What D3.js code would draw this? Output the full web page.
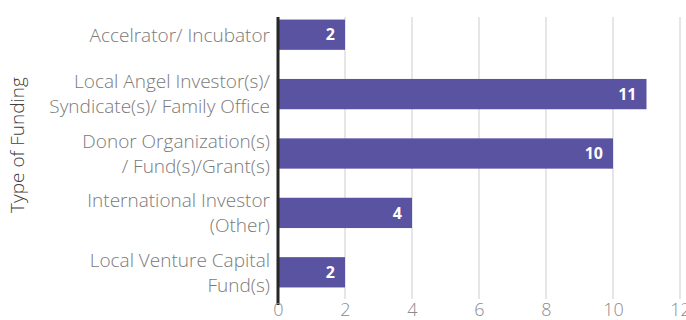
<!DOCTYPE html>
<html>
<head>
<meta charset="utf-8">
<script src="https://cdn.jsdelivr.net/npm/d3@7"></script>
<style>
  html, body { margin: 0; padding: 0; background: #fff; }
  svg { display: block; }
  text { font-family: "Open Sans", Lato, sans-serif; }
</style>
</head>
<body>
<div id="chart"></div>
<script>
// Funding types and counts
const categories = [
  ["Accelrator/ Incubator"],
  ["Local Angel Investor(s)/", "Syndicate(s)/ Family Office"],
  ["Donor Organization(s)", "/ Fund(s)/Grant(s)"],
  ["International Investor", "(Other)"],
  ["Local Venture Capital", "Fund(s)"]
];
const counts = [2, 11, 10, 4, 2];
const xTicks = [0, 2, 4, 6, 8, 10, 12];
const axisTitle = "Type of Funding";

const width = 686, height = 320;
const svg = d3.select("#chart").append("svg")
  .attr("width", width).attr("height", height);

const x = d3.scaleLinear().domain([0, 12]).range([278, 680]);
const y = d3.scaleBand()
  .domain(d3.range(categories.length))
  .range([5, 302])
  .paddingInner(0.49)
  .paddingOuter(0.245);

const plotTop = 17, plotBottom = 299;

// vertical gridlines
svg.append("g")
  .selectAll("line")
  .data(xTicks.filter(t => t > 0))
  .join("line")
  .attr("x1", d => x(d)).attr("x2", d => x(d))
  .attr("y1", plotTop).attr("y2", plotBottom)
  .attr("stroke", "#d9d9d9").attr("stroke-width", 1.3);

// bars
svg.append("g")
  .selectAll("rect")
  .data(counts)
  .join("rect")
  .attr("x", x(0))
  .attr("y", (d, i) => y(i))
  .attr("width", d => x(d) - x(0))
  .attr("height", y.bandwidth())
  .attr("fill", "#5a53a2");

// value labels
svg.append("g")
  .selectAll("text")
  .data(counts)
  .join("text")
  .attr("x", d => x(d) - 10)
  .attr("y", (d, i) => y(i) + y.bandwidth() / 2)
  .attr("dy", "0.36em")
  .attr("text-anchor", "end")
  .attr("fill", "#fff")
  .attr("font-weight", "bold")
  .attr("font-size", 16)
  .text(d => d);

// category axis line
svg.append("line")
  .attr("x1", x(0)).attr("x2", x(0))
  .attr("y1", plotTop).attr("y2", plotBottom + 6)
  .attr("stroke", "#262626").attr("stroke-width", 3);

// category labels
const lineH = 25;
const catG = svg.append("g");
categories.forEach((lines, i) => {
  const cy = y(i) + y.bandwidth() / 2;
  const t = catG.append("text")
    .attr("text-anchor", "end")
    .attr("fill", "#7a7a7a")
    .attr("font-weight", 300)
    .attr("font-size", 19);
  lines.forEach((ln, j) => {
    t.append("tspan")
      .attr("x", 270)
      .attr("y", cy + (j - (lines.length - 1) / 2) * lineH)
      .attr("dy", "0.36em")
      .text(ln);
  });
});

// value axis ticks
const xAxis = d3.axisBottom(x).tickValues(xTicks).tickSize(0).tickPadding(0);
const gx = svg.append("g").attr("transform", `translate(0, ${plotBottom + 4})`).call(xAxis);
gx.select(".domain").remove();
gx.selectAll("text")
  .attr("font-family", "'Open Sans', Lato, sans-serif")
  .attr("font-weight", 300)
  .attr("font-size", 18)
  .attr("fill", "#8c8c8c")
  .attr("dy", "0.7em");

// axis title
svg.append("text")
  .attr("transform", `translate(24, 145) rotate(-90)`)
  .attr("text-anchor", "middle")
  .attr("fill", "#404040")
  .attr("font-weight", 300)
  .attr("font-size", 19)
  .text(axisTitle);
</script>
</body>
</html>
